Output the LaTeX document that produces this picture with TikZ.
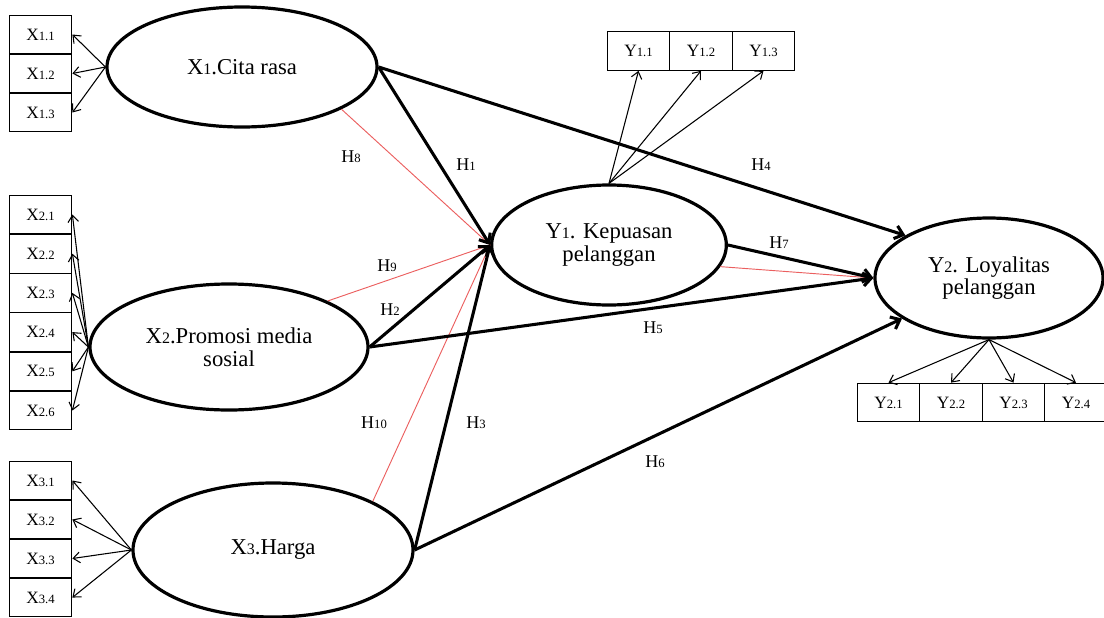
\documentclass[tikz,border=0pt]{standalone}
\usepackage{fontspec}
\setmainfont{Liberation Serif}
\usepackage{tikz}
\usetikzlibrary{arrows.meta, shapes.geometric}

\definecolor{redline}{RGB}{235,95,95}
\newcommand{\smdig}[1]{{\fontsize{9.5}{10}\selectfont #1}}
\newcommand{\bigdig}[1]{{\fontsize{12}{12}\selectfont #1}}

\tikzset{
  latentvar/.style={ellipse, draw, line width=2.4pt, inner sep=0pt, align=center, font=\fontsize{17}{17}\selectfont},
  indbox/.style={rectangle, draw, line width=0.8pt, minimum width=47pt, minimum height=29pt, inner sep=0pt, font=\fontsize{13}{14}\selectfont},
  loading/.style={-{Straight Barb[length=5pt,width=8pt]}, line width=0.8pt},
  effect/.style={-{Straight Barb[length=6pt,width=10pt]}, line width=2.3pt},
  redeffect/.style={draw=redline, line width=0.7pt},
  hlabel/.style={inner sep=0pt, font=\fontsize{13.5}{14}\selectfont}
}

\begin{document}
\begin{tikzpicture}[x=0.75pt,y=0.75pt,yscale=-1,xscale=1]
\useasboundingbox (0,0) rectangle (1104,618);

%Shape: Ellipse
\node [latentvar, minimum width=202.5pt, minimum height=90pt] (x1) at (242,67) {X\bigdig{1}.Cita rasa};
%Shape: Ellipse
\node [latentvar, minimum width=208.5pt, minimum height=94.5pt] (x2) at (229,347) {X\bigdig{2}.Promosi media\\sosial};
%Shape: Ellipse
\node [latentvar, minimum width=210pt, minimum height=100.5pt] (x3) at (273,550) {X\bigdig{3}.Harga};
%Shape: Ellipse
\node [latentvar, minimum width=176pt, minimum height=90pt] (y1) at (609,245) {Y\bigdig{1}. Kepuasan\\pelanggan};
%Shape: Ellipse
\node [latentvar, minimum width=171pt, minimum height=90pt] (y2) at (989,278) {Y\bigdig{2}. Loyalitas\\pelanggan};

% Indicator boxes
\node [indbox] (x11) at (40.5,34.5) {X\smdig{1.1}};
\node [indbox] (x12) at (40.5,73.5) {X\smdig{1.2}};
\node [indbox] (x13) at (40.5,112.5) {X\smdig{1.3}};

\node [indbox] (x21) at (40.5,214.5) {X\smdig{2.1}};
\node [indbox] (x22) at (40.5,253.7) {X\smdig{2.2}};
\node [indbox] (x23) at (40.5,292.9) {X\smdig{2.3}};
\node [indbox] (x24) at (40.5,332.1) {X\smdig{2.4}};
\node [indbox] (x25) at (40.5,371.3) {X\smdig{2.5}};
\node [indbox] (x26) at (40.5,410.5) {X\smdig{2.6}};

\node [indbox] (x31) at (40.5,480.5) {X\smdig{3.1}};
\node [indbox] (x32) at (40.5,519.5) {X\smdig{3.2}};
\node [indbox] (x33) at (40.5,558.5) {X\smdig{3.3}};
\node [indbox] (x34) at (40.5,597.5) {X\smdig{3.4}};

\node [indbox] (y11) at (638.5,51) {Y\smdig{1.1}};
\node [indbox] (y12) at (701,51) {Y\smdig{1.2}};
\node [indbox] (y13) at (763.5,51) {Y\smdig{1.3}};

\node [indbox] (y21) at (888.5,402.5) {Y\smdig{2.1}};
\node [indbox] (y22) at (951,402.5) {Y\smdig{2.2}};
\node [indbox] (y23) at (1013.5,402.5) {Y\smdig{2.3}};
\node [indbox] (y24) at (1076,402.5) {Y\smdig{2.4}};

%Straight Lines
\draw [loading] (x1.west) -- (x11.east);
\draw [loading] (x1.west) -- (x12.east);
\draw [loading] (x1.west) -- (x13.east);

\draw [loading] (x2.west) -- (x21.east);
\draw [loading] (x2.west) -- (x22.east);
\draw [loading] (x2.west) -- (x23.east);
\draw [loading] (x2.west) -- (x24.east);
\draw [loading] (x2.west) -- (x25.east);
\draw [loading] (x2.west) -- (x26.east);

\draw [loading] (x3.west) -- (x31.east);
\draw [loading] (x3.west) -- (x32.east);
\draw [loading] (x3.west) -- (x33.east);
\draw [loading] (x3.west) -- (x34.east);

\draw [loading] (y1.north) -- (y11.south);
\draw [loading] (y1.north) -- (y12.south);
\draw [loading] (y1.north) -- (y13.south);

\draw [loading] (y2.south) -- (y21.north);
\draw [loading] (y2.south) -- (y22.north);
\draw [loading] (y2.south) -- (y23.north);
\draw [loading] (y2.south) -- (y24.north);

%Red lines
\draw [redeffect] (x1.-23) -- (y1.west);
\draw [redeffect] (x2.25) -- (y1.west);
\draw [redeffect] (x3.26) -- (y1.west);
\draw [redeffect] (y1.-11) -- (y2.west);

%Thick arrows
\draw [effect] (x1.east) -- (y1.west);
\draw [effect] (x1.east) -- (y2.153);
\draw [effect] (x2.east) -- (y1.west);
\draw [effect] (x2.east) -- (y2.west);
\draw [effect] (x3.east) -- (y1.west);
\draw [effect] (x3.east) -- (y2.205);
\draw [effect] (y1.east) -- (y2.west);

% Text Node
\node [hlabel] (h1) at (466,165) {H\smdig{1}};
\node [hlabel] (h2) at (390,310) {H\smdig{2}};
\node [hlabel] (h3) at (476,423) {H\smdig{3}};
\node [hlabel] (h4) at (761,165) {H\smdig{4}};
\node [hlabel] (h5) at (653,328) {H\smdig{5}};
\node [hlabel] (h6) at (655,462) {H\smdig{6}};
\node [hlabel] (h7) at (779,243) {H\smdig{7}};
\node [hlabel] (h8) at (351,157) {H\smdig{8}};
\node [hlabel] (h9) at (387,266) {H\smdig{9}};
\node [hlabel] (h10) at (374,423) {H\smdig{10}};
\end{tikzpicture}
\end{document}
